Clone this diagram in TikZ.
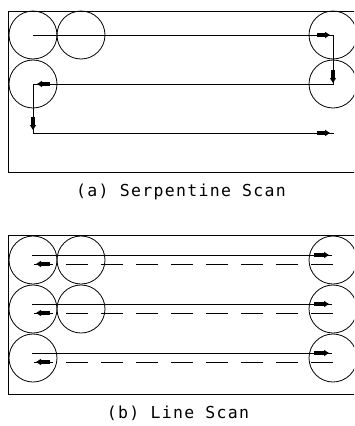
\documentclass[tikz,border=0pt]{standalone}
\usepackage{fontspec}
\newfontfamily\capfont[LetterSpace=8]{DejaVu Sans Mono}
\usetikzlibrary{arrows.meta}
\tikzset{
  frame/.style={line width=1pt},
  wafer/.style={circle, draw, line width=0.8pt, minimum size=48pt, inner sep=0pt},
  scanline/.style={line width=1pt},
  dashscan/.style={line width=1pt, dash pattern=on 22pt off 13pt},
  dirarrow/.style={line width=3.4pt, -{Triangle[length=5pt,width=6pt]}},
  caption/.style={font=\capfont\fontsize{16.5}{18}\selectfont, anchor=base, inner sep=0pt}
}
\begin{document}
\begin{tikzpicture}[x=1pt, y=-1pt]
  \path[use as bounding box] (0,0) rectangle (354,426);
  \clip (0,0) rectangle (354,426);

  % ---------- (a) serpentine scan ----------
  \draw[frame] (362,11) -- (8,11) -- (8,172) -- (362,172);
  \node[wafer] (a11) at (33,35) {};
  \node[wafer] (a12) at (81,35) {};
  \node[wafer] (a21) at (33,84) {};
  \node[wafer] (a1r) at (333,35) {};
  \node[wafer] (a2r) at (333,84) {};

  \coordinate (p1) at (33,35);
  \coordinate (p2) at (333,35);
  \coordinate (p3) at (333,84);
  \coordinate (p4) at (33,84);
  \coordinate (p5) at (33,133);
  \coordinate (p6) at (334,133);
  \draw[scanline] (p1) -- (p2) -- (p3) -- (p4) -- (p5) -- (p6);

  % direction marks along the serpentine path (yshift is upward on the page)
  \draw[dirarrow] ([xshift=-16pt]p2) -- ([xshift=-3pt]p2);
  \draw[dirarrow] ([yshift=14pt]p3) -- ([yshift=1pt]p3);
  \draw[dirarrow] ([xshift=17pt]p4) -- ([xshift=4pt]p4);
  \draw[dirarrow] ([yshift=16pt]p5) -- ([yshift=3pt]p5);
  \draw[dirarrow] ([xshift=-17pt]p6) -- ([xshift=-4pt]p6);

  \node[caption] (capA) at (181,196) {(a) Serpentine Scan};

  % ---------- (b) line scan ----------
  \draw[frame] (362,235) -- (8,235) -- (8,394) -- (362,394);
  \foreach \r/\y in {1/260, 2/309, 3/358} {
    \node[wafer] (b\r l) at (33,\y) {};
    \node[wafer] (b\r r) at (333,\y) {};
    \coordinate (s\r a) at (32,\y-5);
    \coordinate (s\r b) at (332,\y-5);
    \coordinate (d\r a) at (333,\y+4);
    \coordinate (d\r b) at (34,\y+4);
    \draw[scanline] (s\r a) -- (s\r b);
    \draw[dashscan] (d\r a) -- (d\r b);
    \draw[dirarrow] ([xshift=-18pt]s\r b) -- ([xshift=-3pt]s\r b);
    \draw[dirarrow] ([xshift=16pt]d\r b) -- ([xshift=2pt]d\r b);
  }
  \node[wafer] (b1m) at (81,260) {};
  \node[wafer] (b2m) at (81,309) {};

  \node[caption] (capB) at (178,418) {(b) Line Scan};
\end{tikzpicture}
\end{document}
